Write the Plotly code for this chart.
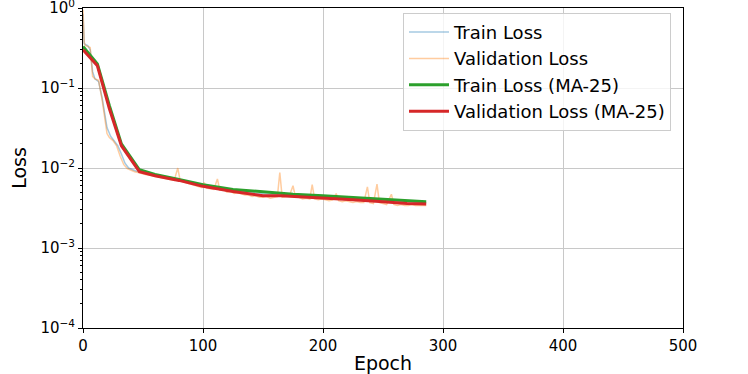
import plotly.graph_objects as go

# raw per-epoch losses
train_epochs = [0, 1, 2, 4, 6, 8, 10, 13, 16, 20, 23, 26, 29, 32, 35, 38, 41, 44,
                50, 56, 62, 68, 74, 80, 86, 92, 98, 104, 110, 116, 122, 128, 134, 140,
                146, 152, 158, 164, 170, 176, 182, 188, 194, 200, 206, 212, 218, 224,
                230, 236, 242, 248, 254, 260, 266, 272, 278, 286]
train_loss = [0.85, 0.36, 0.35, 0.34, 0.30, 0.16, 0.13, 0.12, 0.075, 0.032, 0.025, 0.022,
              0.019, 0.015, 0.0115, 0.0100, 0.0095, 0.0092,
              0.0088, 0.0084, 0.0080, 0.0077, 0.0074, 0.0071, 0.0068, 0.0065, 0.0062,
              0.0059, 0.0057, 0.0055, 0.0053, 0.0052, 0.0050, 0.0049, 0.0048, 0.0047,
              0.0047, 0.0046, 0.0046, 0.0045, 0.0045, 0.0044, 0.0044, 0.0043, 0.0043,
              0.0042, 0.0042, 0.0041, 0.0041, 0.0040, 0.0040, 0.0039, 0.0039, 0.0039,
              0.0038, 0.0038, 0.0037, 0.0037]

val_epochs = [0, 1, 2, 4, 6, 8, 10, 13, 16, 20, 22, 25, 28, 31, 34, 37, 40, 43, 46, 49,
              52, 55, 58, 61, 64, 67, 70, 73, 76, 79, 81, 84, 87, 90, 93, 96, 99, 101,
              103, 106, 109, 112, 114, 117, 120, 123, 126, 129, 132, 135, 138, 141, 144,
              147, 150, 153, 156, 159, 162, 164, 166, 169, 172, 175, 177, 180, 183, 186,
              189, 191, 193, 196, 199, 202, 205, 208, 211, 213, 216, 219, 222, 225, 228,
              231, 234, 237, 239, 242, 245, 247, 250, 253, 257, 259, 262, 265, 268, 271,
              274, 277, 280, 283, 286]
val_loss = [0.95, 0.37, 0.34, 0.33, 0.32, 0.14, 0.13, 0.125, 0.07, 0.027, 0.024, 0.022,
            0.019, 0.014, 0.011, 0.0098, 0.0093, 0.0090, 0.0088, 0.0085,
            0.0083, 0.0082, 0.0080, 0.0078, 0.0077, 0.0075, 0.0074, 0.0072, 0.0070,
            0.0100, 0.0069, 0.0067, 0.0065, 0.0063, 0.0061, 0.0059, 0.0057, 0.0066,
            0.0056, 0.0055, 0.0054, 0.0073, 0.0053, 0.0054, 0.0050, 0.0051, 0.0048,
            0.0049, 0.0047, 0.0046, 0.0046, 0.0044, 0.0045, 0.0043, 0.0043, 0.0044,
            0.0042, 0.0043, 0.0044, 0.0088, 0.0043, 0.0044, 0.0045, 0.0060, 0.0044,
            0.0043, 0.0041, 0.0042, 0.0041, 0.0062, 0.0041, 0.0040, 0.0041, 0.0040,
            0.0039, 0.0040, 0.0048, 0.0039, 0.0038, 0.0039, 0.0038, 0.0037, 0.0038,
            0.0037, 0.0037, 0.0058, 0.0037, 0.0036, 0.0063, 0.0037, 0.0036, 0.0035,
            0.0047, 0.0035, 0.0034, 0.0035, 0.0034, 0.0034, 0.0035, 0.0034, 0.0034,
            0.0034, 0.0034]

# moving averages (window 25)
ma_epochs = [0, 12, 22, 32, 47, 60, 80, 100, 125, 150, 165, 175, 200, 225, 250, 270, 286]
train_ma = [0.33, 0.20, 0.060, 0.020, 0.0095, 0.0083, 0.0072, 0.0062, 0.0054, 0.0050,
            0.0048, 0.0047, 0.0045, 0.0043, 0.0041, 0.0039, 0.0038]
val_ma = [0.30, 0.19, 0.055, 0.019, 0.0090, 0.0080, 0.0070, 0.0059, 0.0051, 0.0045,
          0.0045, 0.0044, 0.0042, 0.0040, 0.0038, 0.0036, 0.00355]

y_tickvals = [1e-4, 1e-3, 1e-2, 1e-1, 1]
y_ticktext = ["10<sup>−4</sup>", "10<sup>−3</sup>", "10<sup>−2</sup>",
              "10<sup>−1</sup>", "10<sup>0</sup>"]
y_minor = [k * 10.0 ** e for e in range(-4, 0) for k in range(2, 10)]

fig = go.Figure()
fig.add_trace(go.Scatter(x=train_epochs, y=train_loss, mode="lines", name="Train Loss",
                         line=dict(color="rgba(31,119,180,0.4)", width=1.5)))
fig.add_trace(go.Scatter(x=val_epochs, y=val_loss, mode="lines", name="Validation Loss",
                         line=dict(color="rgba(255,127,14,0.4)", width=1.5)))
fig.add_trace(go.Scatter(x=ma_epochs, y=train_ma, mode="lines", name="Train Loss (MA-25)",
                         line=dict(color="#2ca02c", width=3)))
fig.add_trace(go.Scatter(x=ma_epochs, y=val_ma, mode="lines", name="Validation Loss (MA-25)",
                         line=dict(color="#d62728", width=3)))

axis_common = dict(showline=True, linecolor="black", linewidth=1, mirror=True,
                   ticks="outside", ticklen=4, tickcolor="black", automargin=False,
                   showgrid=True, gridcolor="#c8c8c8", gridwidth=1, zeroline=False,
                   ticklabeloverflow="allow",
                   tickfont=dict(size=15, color="black"))

fig.update_xaxes(range=[0, 500], dtick=100,
                 title=dict(text="Epoch", font=dict(size=19), standoff=2),
                 **axis_common)
fig.update_yaxes(type="log", range=[-4, 0.0005], tickvals=y_tickvals, ticktext=y_ticktext,
                 title=dict(text="Loss", font=dict(size=19), standoff=8),
                 minor=dict(tickvals=y_minor, ticks="outside", ticklen=2,
                            tickcolor="black", showgrid=False),
                 **axis_common)

fig.update_layout(
    width=748, height=374,
    margin=dict(l=83, r=65, t=8, b=46),
    plot_bgcolor="white", paper_bgcolor="white",
    font=dict(family="DejaVu Sans", color="black"),
    legend=dict(x=0.98, y=0.985, xanchor="right", yanchor="top",
                bgcolor="rgba(255,255,255,0.8)", bordercolor="#cccccc", borderwidth=1,
                font=dict(size=18), tracegroupgap=0, itemwidth=40),
)

# drop the default page margin so the figure sits at the window's corner
fig.write_html("out.html", config={"displayModeBar": False},
               post_script="document.body.style.margin = '0';")
